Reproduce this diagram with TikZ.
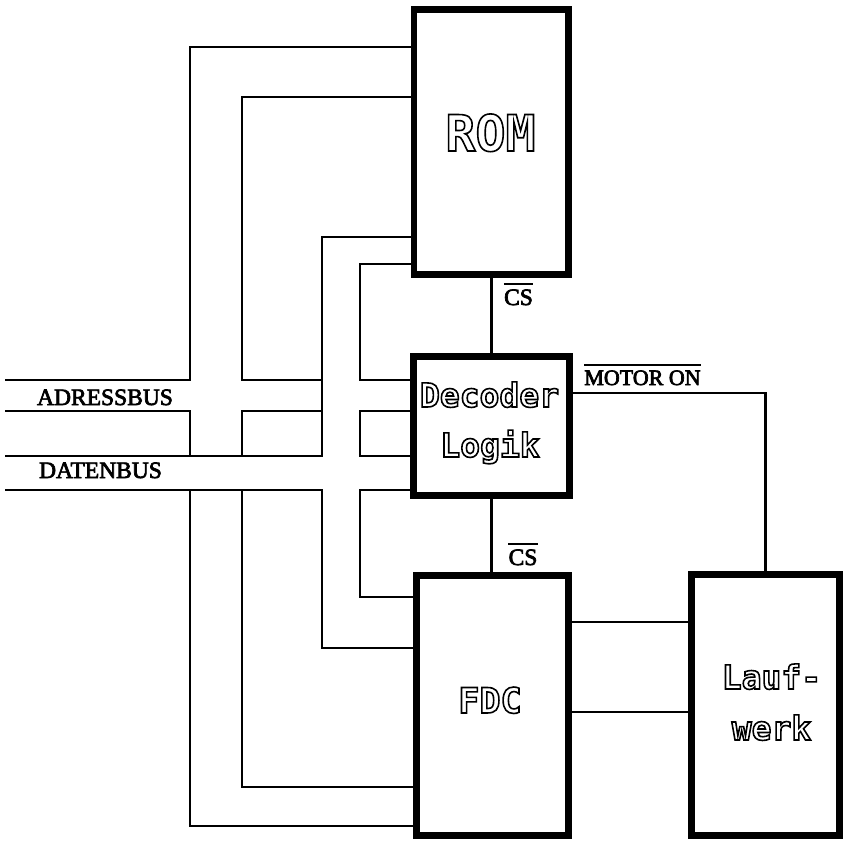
\documentclass[tikz,border=0pt]{standalone}
\usepackage{fontspec}
\newfontfamily\boxfont{DejaVu Sans Mono Bold}
\newfontfamily\lblfont{Liberation Serif}
\newcommand\hollowtxt[1]{\special{pdf:literal direct 1 Tr 1.6 w}#1\special{pdf:literal direct 0 Tr}}
\newcommand\heavytxt[1]{\special{pdf:literal direct 2 Tr 0.7 w}#1\special{pdf:literal direct 0 Tr}}
\begin{document}
\begin{tikzpicture}[x=1pt,y=-1pt,
  blk/.style={draw, line width=6.8pt, inner sep=0pt},
  wire/.style={line width=2.9pt},
  overl/.style={line width=1.7pt},
  boxtxt/.style={anchor=base, inner sep=0pt, font=\boxfont\fontsize{33}{33}\selectfont},
  bustxt/.style={anchor=base, inner sep=0pt, font=\lblfont\fontsize{23.5}{24}\selectfont}]
\useasboundingbox (0,0) rectangle (844,841);
% blocks
\node[blk, minimum width=154.5pt, minimum height=265pt] (rom) at (491.3,142) {};
\node[blk, minimum width=156.5pt, minimum height=139.5pt] (dec) at (491.5,426) {};
\node[blk, minimum width=152.5pt, minimum height=260.5pt] (fdc) at (492.5,705.5) {};
\node[blk, minimum width=148.5pt, minimum height=261.5pt] (lw) at (765.5,705) {};
% block texts
\node[boxtxt, font=\boxfont\fontsize{50}{50}\selectfont] (romt) at (490.5,151) {\hollowtxt{ROM}};
\node[boxtxt] (dect) at (489.5,407) {\hollowtxt{Decoder}};
\node[boxtxt] (logt) at (490,457) {\hollowtxt{Logik}};
\node[boxtxt, font=\boxfont\fontsize{35}{35}\selectfont] (fdct) at (490,713) {\hollowtxt{FDC}};
\node[boxtxt] (lwt1) at (771.5,689) {\hollowtxt{Lauf-}};
\node[boxtxt] (lwt2) at (771.5,740) {\hollowtxt{werk}};
% address bus
\draw[wire] (rom.west |- 0,47) -| (190,380) -- (5,380);
\draw[wire] (rom.west |- 0,97) -| (242,380) -- (322,380);
\draw[wire] (5,411) -| (190,456);
\draw[wire] (322,411) -| (242,456);
\draw[wire] (fdc.west |- 0,826) -| (190,490);
\draw[wire] (fdc.west |- 0,787) -| (242,490);
% data bus
\draw[wire] (rom.west |- 0,237) -| (322,456) -- (5,456);
\draw[wire] (fdc.west |- 0,648) -| (322,490) -- (5,490);
\draw[wire] (rom.west |- 0,264) -| (360,380) -- (dec.west |- 0,380);
\draw[wire] (dec.west |- 0,411) -| (360,456) -- (dec.west |- 0,456);
\draw[wire] (dec.west |- 0,490) -| (360,597) -- (fdc.west |- 0,597);
% control lines
\draw[wire] (rom.south) -- (rom.south |- dec.north);
\draw[wire] (dec.south) -- (dec.south |- fdc.north);
\draw[wire] (dec.east |- 0,393) -| (lw.north);
\draw[wire] (fdc.east |- 0,622) -- (lw.west |- 0,622);
\draw[wire] (fdc.east |- 0,712) -- (lw.west |- 0,712);
% labels
\node[bustxt] (adr) at (105,405) {\heavytxt{ADRESSBUS}};
\node[bustxt] (dat) at (100.5,478) {\heavytxt{DATENBUS}};
\node[bustxt, font=\lblfont\fontsize{22}{24}\selectfont] (mot) at (642.5,385) {\heavytxt{MOTOR ON}};
\draw[overl] ([yshift=5pt]mot.north west) -- ([yshift=5pt]mot.north east);
\node[bustxt] (cs1) at (518.5,305) {\heavytxt{CS}};
\draw[overl] ([yshift=5pt]cs1.north west) -- ([yshift=5pt]cs1.north east);
\node[bustxt] (cs2) at (523,565) {\heavytxt{CS}};
\draw[overl] ([yshift=5pt]cs2.north west) -- ([yshift=5pt]cs2.north east);
\end{tikzpicture}
\end{document}
